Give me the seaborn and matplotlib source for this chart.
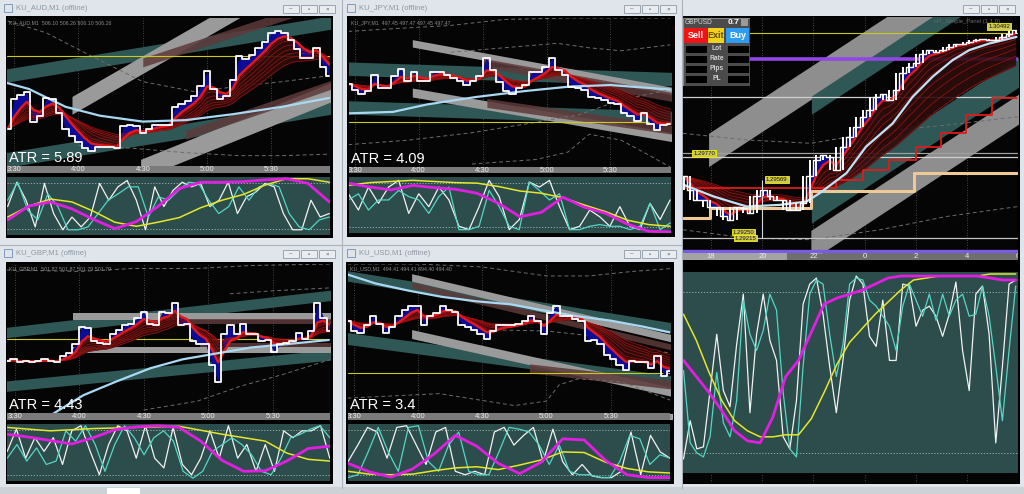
import numpy as np
import pandas as pd
import matplotlib.pyplot as plt
import seaborn as sns
from matplotlib.patches import Rectangle

# ---------------- data (minutes after 3:30 on the small charts) ----------------
TIME_TICKS = [0, 30, 60, 90, 120, 150]
TIME_LABELS = ['3:30', '4:00', '4:30', '5:00', '5:30', '6:']

AUD_SPAN = [-3, 147]
AUD_PRICE = [25, 45, 48, 50, 30, 34, 46, 45, 36, 25, 20, 16, 12, 10, 13, 13, 13, 12, 27, 28,
             27, 22, 25, 28, 28, 28, 40, 42, 44, 47, 54, 64, 52, 45, 47, 58, 74, 72, 75, 80,
             84, 90, 91, 90, 85, 79, 73, 73, 80, 67, 61]
AUD_MA_T = [-3, 7, 24, 40, 60, 80, 102, 125, 147]
AUD_MA_V = [56, 52, 40, 34, 30, 31, 35, 40, 46]
AUD_LEVEL = 74
AUD_BANDS = [(-4, 148, 61, 97, 9), (-4, 148, 4, 40, 10), (27, 148, 41, 142, 12),
             (59, 148, -2, 50, 13), (60, 148, 70, 112, 6), (80, 148, 21, 55, 6)]
AUD_DASHES = [([-3, 15, 35, 60, 85, 105, 125, 147], [98, 90, 75, 57, 50, 54, 57, 61]),
              ([30, 55, 80, 105, 125, 147], [14, 12, 9, 7, 7, 8])]
AUD_WHITE = [49, 91, 60, 14, 89, 37, 9, 31, 14, 31, 89, 60, 83, 94, 60, 9, 83, 49, 77, 91,
             83, 89, 49, 60, 91, 37, 66, 74, 89, 83, 37, 9, 9, 60, 31, 37]
AUD_CYAN = [60, 91, 43, 26, 71, 49, 9, 9, 14, 37, 60, 71, 83, 83, 31, 66, 60, 77, 91, 89,
            60, 37, 49, 83, 60, 83, 89, 83, 37, 14, 9, 26, 31]
AUD_MAG = [26, 50, 57, 45, 27, 11, 23, 49, 80, 91, 91, 92, 95, 97, 89, 57]
AUD_YEL = [31, 50, 62, 57, 41, 22, 15, 22, 30, 47, 60, 70, 86, 97, 97, 91]

JPY_SPAN = [-3, 148]
JPY_PRICE = [56, 52, 49, 51, 62, 53, 53, 61, 66, 58, 64, 58, 58, 64, 64, 62, 60, 58, 55, 58,
             61, 73, 65, 57, 51, 49, 53, 55, 64, 64, 67, 73, 65, 62, 54, 53, 52, 47, 46, 45,
             43, 42, 36, 34, 31, 36, 29, 25, 28, 29]
JPY_MA_T = [-3, 18, 34, 57, 80, 101, 120, 148]
JPY_MA_V = [36, 37, 42, 47, 51, 54, 55, 52]
JPY_LEVEL = 30
JPY_BANDS = [(-3, 149, 66, 59, 9), (-3, 149, 40, 33, 9), (27, 149, 83, 51, 5),
             (27, 149, 50, 20, 6), (60, 149, 70, 47, 6), (62, 149, 43, 25, 6)]
JPY_DASHES = [([-3, 20, 45, 70, 100, 148], [91, 93, 95, 99, 100, 100]),
              ([45, 70, 95, 110, 125, 148], [77, 80, 83, 80, 78, 82]),
              ([-3, 25, 55, 85, 105, 125, 148], [15, 18, 23, 30, 35, 45, 52]),
              ([55, 85, 100, 110, 125, 138, 148], [2, 5, 10, 22, 18, 8, 0])]
JPY_WHITE = [70, 41, 82, 53, 82, 94, 35, 70, 47, 82, 59, 12, 6, 47, 94, 65, 6, 24, 91, 82,
             94, 47, 6, 12, 41, 29, 12, 47, 12, 6, 53, 24, 59]
JPY_CYAN = [59, 70, 41, 59, 59, 76, 65, 59, 35, 65, 82, 6, 6, 12, 76, 47, 12, 6, 91, 76,
            59, 70, 6, 6, 12, 15, 12, 12, 6, 12, 53, 6, 18]
JPY_MAG = [89, 82, 77, 85, 81, 78, 71, 53, 29, 37, 64, 46, 35, 16, 3, 2]
JPY_YEL = [85, 90, 92, 94, 92, 90, 89, 83, 75, 71, 63, 50, 38, 23, 15, 12]

GBP_SPAN = [-3.5, 146.5]
GBP_PRICE = [35, 36, 34, 35, 34, 35, 36, 35, 34, 38, 40, 46, 58, 57, 48, 47, 46, 53, 56, 59,
             60, 64, 68, 60, 59, 68, 67, 74, 59, 60, 48, 46, 46, 32, 21, 53, 59, 53, 60, 53,
             53, 48, 49, 41, 46, 47, 48, 54, 50, 55, 74, 64, 55]
GBP_MA_T = [15, 32, 47, 63, 78, 94, 110, 125, 146]
GBP_MA_V = [-3, 12, 21, 30, 36, 40, 44, 46, 49]
GBP_LEVEL = 50
GBP_BANDS = [(-4, 147, 54, 79, 7), (-4, 147, 18, 39, 7), (27, 147, 65, 65, 4.5),
             (27, 147, 42, 42, 4), (75, 147, 61.5, 61.5, 3), (86, 147, 45.5, 45.5, 3)]
GBP_DASHES = [([-4, 30, 55, 85, 110, 147], [96, 95, 97, 97, 99, 100]),
              ([100, 120, 147], [80, 82, 84]),
              ([60, 85, 105, 125, 147], [2, 8, 18, 26, 36])]
GBP_WHITE = [52, 91, 40, 76, 52, 76, 29, 88, 97, 52, 11, 64, 97, 88, 40, 97, 40, 23, 94, 29,
             11, 40, 88, 40, 97, 40, 64, 17, 64, 17, 88, 76, 88, 88, 97, 40]
GBP_CYAN = [40, 64, 35, 58, 29, 35, 88, 70, 97, 64, 17, 64, 97, 76, 46, 76, 88, 70, 17, 5,
            17, 52, 64, 76, 64, 46, 17, 11, 40, 76, 82, 91, 97, 76]
GBP_MAG = [82, 77, 71, 65, 76, 90, 95, 97, 94, 70, 36, 17, 18, 35, 57, 61]
GBP_YEL = [94, 91, 88, 90, 92, 93, 94, 95, 96, 89, 82, 76, 70, 49, 38, 35]

USD_SPAN = [-2.7, 147.7]
USD_PRICE = [62, 55, 54, 59, 65, 60, 54, 58, 65, 69, 72, 72, 59, 65, 67, 72, 69, 68, 59, 58,
             56, 53, 50, 55, 59, 59, 59, 60, 62, 65, 62, 53, 67, 72, 65, 65, 63, 62, 48, 49,
             46, 39, 36, 32, 29, 35, 34, 34, 30, 38, 25, 28]
USD_MA_T = [-3, 10, 26, 41, 57, 73, 88, 104, 120, 135, 148]
USD_MA_V = [93, 87, 82, 78, 75, 73, 69, 65, 62, 58, 54]
USD_LEVEL = 27
USD_BANDS = [(-3, 149, 92, 57, 7), (-3, 149, 50, 21, 8), (27, 149, 91, 50, 5),
             (27, 149, 53, 14, 6), (27, 149, 86, 44, 4), (82, 149, 30, 19, 6)]
USD_DASHES = [([-3, 30, 60, 90, 110, 130, 149], [100, 100, 98, 92, 92, 95, 97]),
              ([60, 90, 110, 130, 149], [56, 55, 52, 44, 40]),
              ([-3, 40, 75, 90, 96, 105, 125, 149], [10, 13, 5, 8, 19, 23, 21, 8])]
USD_WHITE = [34, 63, 94, 86, 40, 94, 97, 63, 29, 86, 94, 17, 11, 17, 11, 86, 94, 63, 80, 94,
             34, 91, 34, 11, 29, 9, 6, 6, 17, 86, 11, 80, 51, 40]
USD_CYAN = [6, 11, 51, 94, 51, 17, 94, 97, 34, 17, 63, 86, 17, 11, 11, 51, 94, 91, 86, 63,
            29, 63, 17, 11, 11, 6, 6, 34, 80, 74, 29, 46, 40]
USD_MAG = [31, 16, 7, 21, 47, 80, 61, 31, 13, 33, 74, 72, 36, 11, 6, 6]
USD_YEL = [17, 12, 11, 12, 18, 23, 25, 20, 28, 37, 51, 50, 33, 22, 16, 14]

# GBPUSD (hours, 24 = midnight)
R_TICKS = [18, 20, 22, 24, 26, 28, 30]
R_LABELS = ['18', '20', '22', '0', '2', '4', '6']
R_SPAN = [16.92, 29.91]
R_PRICE = [1.29587, 1.29507, 1.29446, 1.29446, 1.29406, 1.29406, 1.29346, 1.29326, 1.29406, 1.29396,
           1.29366, 1.29467, 1.29507, 1.29467, 1.29446, 1.29446, 1.29386, 1.29386, 1.29426, 1.29587,
           1.29687, 1.29717, 1.29707, 1.29627, 1.29767, 1.29827, 1.29887, 1.29947, 1.29987, 1.30067,
           1.30087, 1.30047, 1.30107, 1.30208, 1.30248, 1.30268, 1.30328, 1.30348, 1.30338, 1.30348,
           1.30368, 1.30388, 1.30388, 1.30398, 1.30408, 1.30418, 1.30408, 1.30408, 1.30428, 1.30448,
           1.30468]
R_MA_T = [16.92, 18.09, 19.39, 20.69, 21.73, 22.25, 23.29, 24.06, 25.10, 25.88, 26.66, 27.44, 28.09, 28.87, 29.94]
R_MA_V = [1.29537, 1.29467, 1.29406, 1.29416, 1.29436, 1.29487, 1.29607, 1.29767, 1.29907, 1.30067,
          1.30188, 1.30288, 1.30348, 1.30388, 1.30428]
R_RED_T = [16.92, 22.90, 23.94, 24.97, 26.01, 26.99, 27.96, 29.0, 29.97]
R_RED_V = [1.29517, 1.29567, 1.29627, 1.29687, 1.29767, 1.29847, 1.29957, 1.30057, 1.30057]
R_TAN_T = [16.9, 17.96, 21.92, 25.95, 29.97]
R_TAN_V = [1.29336, 1.29396, 1.29497, 1.29607, 1.29607]
R_LEVELS = [1.30454, 1.30292, 1.30067, 1.29731, 1.29707, 1.29216, 1.29140]
R_BANDS = [(17.9, 30.5, 1.29747, 1.31020, 0.0020), (21.92, 30.5, 1.30017, 1.30884, 0.0011),
           (21.92, 30.5, 1.29396, 1.30263, 0.0018), (21.9, 30.5, 1.29172, 1.30041, 0.0018)]
R_DASHES = [([16.9, 19.4, 21.9, 24.6, 27.2, 30.0], [1.29847, 1.29807, 1.29787, 1.29857, 1.29897, 1.29947]),
            ([16.9, 19.4, 21.9, 24.6, 27.2, 30.0], [1.29266, 1.29216, 1.29206, 1.29266, 1.29346, 1.29406]),
            ([22.9, 29.97], [1.29587, 1.30308])]
R_TAGS = [(29.26, 1.30492, '1.30492'), (17.73, 1.29725, '1.29770'), (20.57, 1.29567, '1.29569'),
          (19.26, 1.29252, '1.29250'), (19.35, 1.29216, '1.29215')]
R_WHITE = [7, 26, 12, 13, 41, 69, 41, 33, 64, 89, 30, 69, 89, 66, 56, 18, 12, 36, 84, 94,
           97, 79, 53, 30, 56, 86, 98, 94, 68, 63, 86, 56, 56, 94, 93, 73, 81, 83, 78, 68,
           79, 95, 61, 41, 89, 93, 69, 15, 53, 94, 96]
R_CYAN = [51, 15, 10, 8, 18, 50, 25, 18, 36, 86, 69, 61, 71, 89, 81, 40, 12, 8, 53, 89,
          96, 94, 69, 48, 64, 94, 97, 96, 86, 83, 78, 73, 61, 83, 94, 86, 78, 89, 76, 89,
          78, 86, 89, 78, 79, 93, 78, 53, 26, 61, 93]
R_MAG = [56, 48, 40, 31, 21, 16, 15, 28, 48, 56, 70, 84, 87, 89, 91, 94, 97, 98, 98, 98,
         98, 98, 98, 98, 97, 96, 96]
R_YEL = [79, 66, 50, 36, 26, 21, 18, 18, 19, 19, 27, 40, 54, 65, 72, 79, 85, 91, 96, 97,
         98, 98, 98, 98, 99, 99, 99]

# ---------------- styling ----------------
W, H = 1024, 494
sns.set_style('dark')
plt.rcParams['font.family'] = ['Liberation Sans', 'DejaVu Sans']
plt.rcParams['patch.force_edgecolor'] = False
BAND_COLORS = ['#2f5755', '#2f5755', '#9a9a9a', '#9a9a9a', '#5e3a3a', '#5e3a3a']
BAND_ALPHA = [1, 1, 1, 1, 0.85, 0.85]
SPANS = [4, 5, 6, 8, 10, 12, 14, 17]

fig = plt.figure(figsize=(W / 100, H / 100), dpi=100, facecolor='#dfe5eb')


def box(x0, y0, x1, y1):
    return [x0 / W, 1 - y1 / H, (x1 - x0) / W, (y1 - y0) / H]


bg = fig.add_axes([0, 0, 1, 1])
bg.set_xlim(0, W)
bg.set_ylim(H, 0)
bg.axis('off')


def rect(x0, y0, x1, y1, fc, ec='none', lw=0):
    bg.add_patch(Rectangle((x0, y0), x1 - x0, y1 - y0, facecolor=fc, edgecolor=ec, lw=lw))


def chrome(x0, y0, x1, title, frame):
    if title:
        bg.add_patch(Rectangle((x0 + 4, y0 + 4), 8, 8, fc='none', ec='#6f8fb0', lw=0.6))
        bg.text(x0 + 16, y0 + 8.5, title, fontsize=5.5, color='#8d98a3', va='center')
    for bx, g in zip((x1 - 57, x1 - 39, x1 - 21), ('–', '▫', '×')):
        bg.add_patch(Rectangle((bx, y0 + 5), 16, 8, fc='#e9edf1', ec='#8f9aa5', lw=0.6))
        bg.text(bx + 8, y0 + 9, g, fontsize=4.5, color='#555', ha='center', va='center')
    rect(*frame, '#000000')


def plain(ax, fc):
    ax.set_facecolor(fc)
    ax.set_xticks([])
    ax.set_yticks([])
    ax.set_xlabel('')
    ax.set_ylabel('')
    for s in ax.spines.values():
        s.set_visible(False)


def line(ax, x, y, color, lw, **kw):
    sns.lineplot(x=x, y=y, ax=ax, color=color, linewidth=lw, legend=False, **kw)


def draw_bands(ax, bands, colors, alphas):
    for (t0, t1, v0, v1, w), c, a in zip(bands, colors, alphas):
        ax.fill_between([t0, t1], [v0 - w / 2, v1 - w / 2], [v0 + w / 2, v1 + w / 2],
                        color=c, alpha=a, lw=0, zorder=1)


def ribbon(ax, t, price, spans):
    s = pd.Series(price, dtype=float)
    emas = [s.ewm(span=k, adjust=False).mean().to_numpy() for k in spans]
    ax.fill_between(t, emas[0], emas[-1], color='#2c0d0d', alpha=0.9, lw=0, zorder=3)
    ax.fill_between(t, price, emas[0], color='#0c0c96', lw=0, zorder=3.5)
    for e in emas[1:]:
        ax.plot(t, e, color='#a51010', lw=0.5, zorder=4)
    ax.plot(t, emas[0], color='#e41a1a', lw=1.7, zorder=4.5)


def oscillator(ax, span, white, cyan, mag, yel, xlim):
    plain(ax, '#2c4d4b')
    for lv in (10, 90):
        ax.axhline(lv, color='#a3b6b4', lw=0.6, ls=(0, (1.5, 2)))
    line(ax, np.linspace(*span, len(white)), white, '#f2f2f2', 0.9)
    line(ax, np.linspace(*span, len(cyan)), cyan, '#55d6c6', 0.9)
    line(ax, np.linspace(*span, len(yel)), yel, '#e6e62a', 1.1)
    line(ax, np.linspace(*span, len(mag)), mag, '#e21ee2', 2.0)
    ax.set_xlim(*xlim)
    ax.set_ylim(0, 100)
    ax.set_xlabel('')
    ax.set_ylabel('')


def strip(pos, xlim, ticks, labels, fc):
    st = fig.add_axes(pos)
    plain(st, fc)
    st.set_xlim(*xlim)
    for tk, lab in zip(ticks, labels):
        st.text(tk, 0.45, lab, transform=st.get_xaxis_transform(), ha='center', va='center',
                fontsize=5.5, color='#ececec', clip_on=True)
    return st


def small_chart(geo, xlim, span, header, atr, price, ma_t, ma_v, level, bands, dashes, osc):
    px0, px1, py0, py1, sy1, oy0, oy1 = geo
    ax = fig.add_axes(box(px0, py0, px1, py1))
    for tk in TIME_TICKS:
        ax.axvline(tk, color='#5c5c5c', lw=0.6, ls=(0, (1, 2)), zorder=0.5)
    draw_bands(ax, bands, BAND_COLORS, BAND_ALPHA)
    for dt, dv in dashes:
        line(ax, dt, dv, '#6c6c6c', 0.7, linestyle=(0, (4, 3)), zorder=2)
    ax.axhline(level, color='#c9c91e', lw=0.8, zorder=2)
    t = np.linspace(*span, len(price))
    ribbon(ax, t, price, SPANS)
    line(ax, ma_t, ma_v, '#a9d8f2', 1.6, zorder=5)
    line(ax, t, price, 'white', 1.3, drawstyle='steps-mid', zorder=6)
    plain(ax, '#050505')
    ax.set_xlim(*xlim)
    ax.set_ylim(0, 100)
    ax.text(0.005, 0.985, header, transform=ax.transAxes, fontsize=3.8, color='#8a8a8a',
            va='top', zorder=8)
    ax.text(0.005, 0.01, atr, transform=ax.transAxes, fontsize=10.5, color='white',
            va='bottom', zorder=8)
    strip(box(px0, py1, px1, sy1), xlim, TIME_TICKS, TIME_LABELS, '#7b7b7b')
    oscillator(fig.add_axes(box(px0, oy0, px1, oy1)), span, *osc, xlim)


# ---------------- window chrome ----------------
rect(0, 487, 1024, 494, '#cdd2d7')
rect(107, 488, 140, 494, '#ffffff')
for xx in (341.5, 682):
    bg.plot([xx, xx], [0, 488], color='#a9b3bd', lw=0.8)
bg.plot([0, 342], [244.5, 244.5], color='#a9b3bd', lw=0.8)
bg.plot([342, 682], [244.5, 244.5], color='#a9b3bd', lw=0.8)

chrome(0, 0, 340, 'KU_AUD,M1 (offline)', (6, 16, 333, 238))
chrome(343, 0, 681, 'KU_JPY,M1 (offline)', (347, 16, 675, 237))
chrome(0, 245, 340, 'KU_GBP,M1 (offline)', (6, 262, 333, 484))
chrome(343, 245, 681, 'KU_USD,M1 (offline)', (346, 262, 674, 484))
chrome(682, 0, 1020, '', (682, 16, 1020, 484))

small_chart((7, 330, 18, 166, 173, 177, 235), (-3.3, 147.3), AUD_SPAN,
            'KU_AUD,M1  506.10 506.26 506.10 506.26', 'ATR = 5.89',
            AUD_PRICE, AUD_MA_T, AUD_MA_V, AUD_LEVEL, AUD_BANDS, AUD_DASHES,
            (AUD_WHITE, AUD_CYAN, AUD_MAG, AUD_YEL))
small_chart((349, 671, 18, 167, 173, 177, 233), (-2.7, 148.4), JPY_SPAN,
            'KU_JPY,M1  497.45 497.47 497.45 497.47', 'ATR = 4.09',
            JPY_PRICE, JPY_MA_T, JPY_MA_V, JPY_LEVEL, JPY_BANDS, JPY_DASHES,
            (JPY_WHITE, JPY_CYAN, JPY_MAG, JPY_YEL))
small_chart((7, 330, 264, 413, 420, 424, 481), (-3.6, 146.6), GBP_SPAN,
            'KU_GBP,M1  501.87 501.87 501.79 501.79', 'ATR = 4.43',
            GBP_PRICE, GBP_MA_T, GBP_MA_V, GBP_LEVEL, GBP_BANDS, GBP_DASHES,
            (GBP_WHITE, GBP_CYAN, GBP_MAG, GBP_YEL))
small_chart((348, 670, 264, 413, 420, 424, 481), (-2.7, 147.7), USD_SPAN,
            'KU_USD,M1  494.41 494.41 494.40 494.40', 'ATR = 3.4',
            USD_PRICE, USD_MA_T, USD_MA_V, USD_LEVEL, USD_BANDS, USD_DASHES,
            (USD_WHITE, USD_CYAN, USD_MAG, USD_YEL))
rect(666, 414, 672, 419, '#9a9a9a', ec='#dddddd', lw=0.5)

# ---------------- GBPUSD chart ----------------
R_XLIM = (16.9, 30.0)
ra = fig.add_axes(box(683, 17, 1018, 253))
for tk in R_TICKS:
    ra.axvline(tk, color='#5c5c5c', lw=0.6, ls=(0, (1, 2)), zorder=0.5)
draw_bands(ra, R_BANDS, ['#8e8e8e', '#2f5755', '#2f5755', '#8e8e8e'], [1, 1, 1, 1])
for dt, dv in R_DASHES:
    line(ra, dt, dv, '#6c6c6c', 0.7, linestyle=(0, (4, 3)), zorder=2)
for lv, c, w in zip(R_LEVELS, ['#c9c91e', '#9146e6', '#cfcfcf', '#a0a0a0', '#cfcfcf', '#c4c4c4', '#7a5ae6'],
                    [0.8, 2.6, 0.9, 0.9, 0.9, 0.9, 2.4]):
    ra.axhline(lv, color=c, lw=w, zorder=2.5)
rt = np.linspace(*R_SPAN, len(R_PRICE))
ribbon(ra, rt, R_PRICE, [3, 5, 7, 9, 12, 15, 19, 24])
line(ra, R_RED_T, R_RED_V, '#e21a1a', 1.3, drawstyle='steps-post', zorder=5)
line(ra, R_TAN_T, R_TAN_V, '#efc996', 2.2, drawstyle='steps-post', zorder=5)
line(ra, R_MA_T, R_MA_V, '#bfe3f6', 1.6, zorder=5.5)
rs = pd.Series(R_PRICE)
ra.vlines(rt, rs.rolling(3, center=True, min_periods=1).min(),
          rs.rolling(3, center=True, min_periods=1).max(), color='white', lw=1.4, zorder=6)
line(ra, rt, R_PRICE, 'white', 1.0, drawstyle='steps-mid', zorder=6)
ra.vlines(19.97, R_LEVELS[5], 1.29567, color='#d8d8d8', lw=0.8, zorder=6)
for tx, ty, lab in R_TAGS:
    ra.text(tx, ty, lab, fontsize=4.3, color='#1a1a00', ha='center', va='center', zorder=9,
            bbox=dict(boxstyle='square,pad=0.15', fc='#cfc75a', ec='#f2f200', lw=0.6))
ra.text(28.0, 1.30522, 'HT_Simple_Panel (1,1,0)', fontsize=4.2, color='#6a6a6a', ha='center',
        va='center', zorder=9)
plain(ra, '#050505')
ra.set_xlim(*R_XLIM)
ra.set_ylim(1.29126, 1.30548)

rect(683, 253, 1018, 260, '#6f6f6f')
rect(683, 253, 787, 260, '#a3a3a3')
strip(box(683, 253, 1018, 260), R_XLIM, R_TICKS, R_LABELS, 'none').patch.set_alpha(0)

ro = fig.add_axes(box(683, 272, 1018, 473))
oscillator(ro, R_SPAN, R_WHITE, R_CYAN, R_MAG, R_YEL, R_XLIM)
rb = fig.add_axes(box(683, 473, 1018, 483))
plain(rb, '#050505')
for tk in R_TICKS:
    rb.axvline(tk, color='#5c5c5c', lw=0.6, ls=(0, (1, 2)))
rb.set_xlim(*R_XLIM)

# trading panel
tp = fig.add_axes(box(683, 18, 750, 86))
tp.set_xlim(0, 67)
tp.set_ylim(68, 0)
tp.axis('off')
tp.add_patch(Rectangle((0, 0), 67, 68, fc='#4b4b4b', ec='#8a8a8a', lw=0.8))
tp.text(2, 5, 'GBPUSD', fontsize=4.8, color='#d8d8d8', va='center')
tp.text(50, 5, '0.7', fontsize=6, color='white', weight='bold', va='center', ha='center')
tp.add_patch(Rectangle((58, 1.5), 7, 7, fc='#9a9a9a', ec='none'))
for x0, wd, fc, lab, tc in ((1, 23, '#f01414', 'Sell', 'white'), (25, 16, '#f2d21a', 'Exit', '#5a4a00'),
                            (43, 23, '#2f9cf2', 'Buy', 'white')):
    tp.add_patch(Rectangle((x0, 10), wd, 15, fc=fc, ec='none'))
    tp.text(x0 + wd / 2, 17.5, lab, fontsize=6.5, color=tc, weight='bold', ha='center', va='center')
for i, lab in enumerate(['Lot', 'Rate', 'Pips', 'PL']):
    yy = 27 + i * 10
    tp.add_patch(Rectangle((1.5, yy), 22, 8, fc='#000000', ec='#6a6a6a', lw=0.4))
    tp.add_patch(Rectangle((43.5, yy), 22, 8, fc='#000000', ec='#6a6a6a', lw=0.4))
    tp.text(33.5, yy + 4, lab, fontsize=4.8, color='#d0d0d0', weight='bold', ha='center', va='center')

fig.savefig('out.png', dpi=100, facecolor=fig.get_facecolor())
